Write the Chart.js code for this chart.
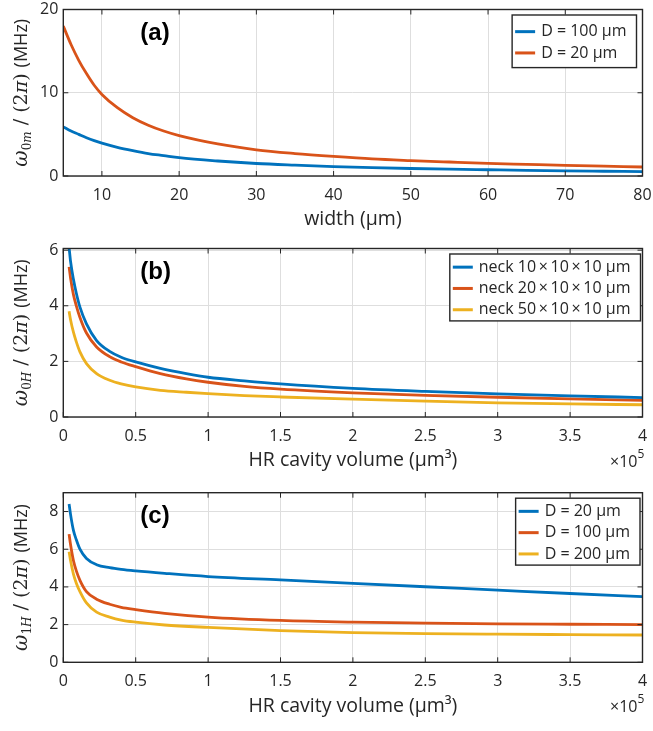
<!DOCTYPE html>
<html>
<head>
<meta charset="utf-8">
<script src="https://cdn.jsdelivr.net/npm/chart.js@4.4.1/dist/chart.umd.min.js"></script>
<style>
  html, body { margin: 0; padding: 0; background: #fff; }
  #wrap { position: relative; width: 653px; height: 731px; }
  .panel { position: absolute; left: 0; width: 653px; }
</style>
</head>
<body>
<div id="wrap">
  <div class="panel" style="top:0;height:235px"><canvas id="chartA"></canvas></div>
  <div class="panel" style="top:235px;height:245px"><canvas id="chartB"></canvas></div>
  <div class="panel" style="top:480px;height:251px"><canvas id="chartC"></canvas></div>
</div>
<script>
// (a) resonance vs neck width
const widthA = [5, 6, 7, 8, 9, 10, 12, 14, 16, 18, 20, 25, 30, 35, 40, 45, 50, 55, 60, 65, 70, 75, 80];
const omegaA_D100 = [5.9, 5.4, 5.0, 4.6, 4.25, 3.95, 3.45, 3.05, 2.7, 2.45, 2.2, 1.8, 1.5, 1.3, 1.13, 1.0, 0.9, 0.82, 0.75, 0.68, 0.62, 0.57, 0.52];
const omegaA_D20 = [18, 15.8, 13.9, 12.3, 10.9, 9.8, 8.2, 7.0, 6.1, 5.4, 4.85, 3.85, 3.15, 2.7, 2.35, 2.05, 1.85, 1.68, 1.52, 1.4, 1.28, 1.18, 1.08];
const xTicksA = [10, 20, 30, 40, 50, 60, 70, 80];
const yTicksA = [0, 10, 20];

// (b) HR cavity volume, units of 1e5 um^3
const volumeB = [0.04, 0.05, 0.07, 0.09, 0.115, 0.16, 0.23, 0.32, 0.4, 0.5, 0.67, 0.85, 1, 1.25, 1.5, 2, 2.5, 3, 3.5, 4];
const omegaB_neck10 = [6.1, 5.6, 4.95, 4.45, 3.95, 3.35, 2.75, 2.36, 2.15, 1.98, 1.75, 1.56, 1.43, 1.3, 1.19, 1.03, 0.92, 0.83, 0.76, 0.7];
const omegaB_neck20 = [5.4, 5.0, 4.4, 4.0, 3.58, 3.02, 2.52, 2.17, 1.98, 1.81, 1.56, 1.37, 1.25, 1.1, 1.0, 0.87, 0.78, 0.71, 0.65, 0.6];
const omegaB_neck50 = [3.8, 3.5, 3.05, 2.7, 2.34, 1.92, 1.56, 1.32, 1.19, 1.08, 0.96, 0.89, 0.84, 0.77, 0.72, 0.64, 0.57, 0.51, 0.47, 0.44];
const yTicksB = [0, 2, 4, 6];

// (c)
const volumeC = [0.04, 0.05, 0.07, 0.09, 0.115, 0.16, 0.23, 0.32, 0.4, 0.5, 0.7, 1, 1.5, 2, 2.5, 3, 3.5, 4];
const omegaC_D20 = [8.4, 7.85, 7.0, 6.5, 6.0, 5.51, 5.18, 5.02, 4.93, 4.85, 4.72, 4.55, 4.37, 4.19, 4.01, 3.83, 3.65, 3.48];
const omegaC_D100 = [6.8, 6.25, 5.4, 4.85, 4.35, 3.75, 3.35, 3.08, 2.92, 2.8, 2.6, 2.4, 2.22, 2.13, 2.08, 2.04, 2.02, 2.0];
const omegaC_D200 = [5.87, 5.4, 4.68, 4.2, 3.75, 3.15, 2.66, 2.4, 2.24, 2.13, 1.98, 1.85, 1.68, 1.58, 1.52, 1.49, 1.47, 1.45];
const xTicksBC = [0, 0.5, 1, 1.5, 2, 2.5, 3, 3.5, 4];
const yTicksC = [0, 2, 4, 6, 8];

const BLUE = '#0072BD', RED = '#D95319', YELLOW = '#EDB120';
const INK = '#262626';
const FONT = '"Open Sans"';

function pts(xs, ys) { return xs.map((x, i) => ({ x: x, y: ys[i] })); }

function line(ctx, x1, y1, x2, y2) {
  ctx.beginPath(); ctx.moveTo(x1, y1); ctx.lineTo(x2, y2); ctx.stroke();
}

// box, inward ticks, panel label, legend, y title, exponent
const frame = {
  id: 'frame',
  afterDraw(chart, args, o) {
    const { ctx, chartArea: a, scales: { x, y } } = chart;
    ctx.save();
    ctx.strokeStyle = INK; ctx.lineWidth = 1;
    x.ticks.forEach(t => {
      const px = x.getPixelForValue(t.value);
      line(ctx, px, a.bottom, px, a.bottom - 5);
      line(ctx, px, a.top, px, a.top + 5);
    });
    y.ticks.forEach(t => {
      const py = y.getPixelForValue(t.value);
      line(ctx, a.left, py, a.left + 5, py);
      line(ctx, a.right, py, a.right - 5, py);
    });
    ctx.lineWidth = 1.4;
    ctx.strokeRect(a.left, a.top, a.width, a.height);

    // panel label
    ctx.fillStyle = '#000';
    ctx.font = 'bold 24px "Liberation Sans"';
    ctx.textBaseline = 'middle'; ctx.textAlign = 'left';
    ctx.fillText(o.label, a.left + 77, a.top + 24);

    // legend
    ctx.font = '16px ' + FONT;
    const ds = chart.data.datasets;
    const tw = Math.max(...ds.map(d => ctx.measureText(d.label).width));
    const rowH = 21.3;
    const w = 29 + tw + 10, h = ds.length * rowH + o.legPad * 2;
    const left = a.right - o.legGap - w, top = a.top + 5.5;
    ctx.fillStyle = '#fff'; ctx.fillRect(left, top, w, h);
    ctx.strokeStyle = INK; ctx.lineWidth = 1.4; ctx.strokeRect(left, top, w, h);
    ds.forEach((d, i) => {
      const cy = top + o.legPad + rowH * (i + 0.5) + 1;
      ctx.strokeStyle = d.borderColor; ctx.lineWidth = 3;
      line(ctx, left + 3, cy, left + 23, cy);
      ctx.fillStyle = INK; ctx.textBaseline = 'middle';
      ctx.fillText(d.label, left + 29, cy);
    });

    // y title, rotated, with subscripts
    const serif = '"DejaVu Serif"';
    const parts = [
      { t: 'ω', f: 'italic 20px ' + serif, dy: 0 },
      { t: o.sub[0], f: '12px ' + serif, dy: 4 },
      { t: o.sub[1], f: 'italic 12px ' + serif, dy: 4 },
      { t: ' / ', f: '19px ' + serif, dy: 0 },
      { t: '(2', f: '19px ' + serif, dy: 0 },
      { t: 'π', f: 'italic 19px ' + serif, dy: 0 },
      { t: ') ', f: '19px ' + serif, dy: 0 },
      { t: '(MHz)', f: '18px ' + FONT, dy: 0 }
    ];
    let total = 0;
    parts.forEach(p => { ctx.font = p.f; p.w = ctx.measureText(p.t).width; total += p.w; });
    ctx.translate(21, (a.top + a.bottom) / 2);
    ctx.rotate(-Math.PI / 2);
    ctx.fillStyle = INK; ctx.textBaseline = 'alphabetic'; ctx.textAlign = 'left';
    let cx = -total / 2;
    parts.forEach(p => { ctx.font = p.f; ctx.fillText(p.t, cx, 6 + p.dy); cx += p.w; });
    ctx.setTransform(1, 0, 0, 1, 0, 0);

    // x10^5 exponent
    if (o.exp) {
      ctx.fillStyle = INK; ctx.textBaseline = 'alphabetic';
      ctx.font = '16px ' + FONT;
      const base = a.bottom + 50;
      ctx.fillText('×10', 610, base);
      const ww = ctx.measureText('×10').width;
      ctx.font = '12px ' + FONT;
      ctx.fillText('5', 610 + ww, base - 9);
    }
    ctx.restore();
  }
};

function makeChart(id, datasets, cfg) {
  return new Chart(document.getElementById(id), {
    type: 'line',
    data: { datasets: datasets.map(d => ({
      label: d.label, data: d.data, borderColor: d.color, backgroundColor: d.color,
      borderWidth: 2.8, pointRadius: 0, fill: false, cubicInterpolationMode: 'monotone'
    })) },
    options: {
      responsive: true, maintainAspectRatio: false, animation: false,
      layout: { padding: { left: 0, right: 10.5, top: cfg.top, bottom: 0 } },
      plugins: {
        legend: { display: false }, tooltip: { enabled: false },
        frame: { label: cfg.label, sub: cfg.sub, exp: cfg.exp, legGap: cfg.legGap, legPad: cfg.legPad }
      },
      scales: {
        x: {
          type: 'linear', min: cfg.xMin, max: cfg.xMax,
          grid: { color: '#dedede', drawTicks: false },
          border: { display: false },
          ticks: { color: INK, font: { family: FONT, size: 16 }, padding: 10, maxRotation: 0, callback: v => String(v) },
          title: { display: true, text: cfg.xTitle, color: INK, font: { family: FONT, size: 19.5 }, padding: { top: 0, bottom: cfg.titlePad } },
          afterBuildTicks: s => { s.ticks = cfg.xTicks.map(v => ({ value: v })); },
          afterFit: s => { s.height = cfg.xH; s.paddingLeft = 0; s.paddingRight = 0; }
        },
        y: {
          min: 0, max: cfg.yMax,
          grid: { color: '#dedede', drawTicks: false },
          border: { display: false },
          ticks: { color: INK, font: { family: FONT, size: 16 }, padding: 5, callback: v => String(v) },
          afterBuildTicks: s => { s.ticks = cfg.yTicks.map(v => ({ value: v })); },
          afterFit: s => { s.width = 63.3; s.paddingTop = 0; s.paddingBottom = 0; }
        }
      }
    },
    plugins: [frame]
  });
}

makeChart('chartA', [
  { label: 'D = 100 μm', data: pts(widthA, omegaA_D100), color: BLUE },
  { label: 'D = 20 μm', data: pts(widthA, omegaA_D20), color: RED }
], { top: 9.5, xH: 59, xMin: 5, xMax: 80, yMax: 20, xTicks: xTicksA, yTicks: yTicksA,
     xTitle: 'width (μm)', titlePad: 4, label: '(a)', sub: ['0', 'm'], exp: false, legGap: 6, legPad: 5 });

makeChart('chartB', [
  { label: 'neck 10\u2009×\u200910\u2009×\u200910 μm', data: pts(volumeB, omegaB_neck10), color: BLUE },
  { label: 'neck 20\u2009×\u200910\u2009×\u200910 μm', data: pts(volumeB, omegaB_neck20), color: RED },
  { label: 'neck 50\u2009×\u200910\u2009×\u200910 μm', data: pts(volumeB, omegaB_neck50), color: YELLOW }
], { top: 13.5, xH: 63, xMin: 0, xMax: 4, yMax: 6.06, xTicks: xTicksBC, yTicks: yTicksB,
     xTitle: 'HR cavity volume (μm³)', titlePad: 8, label: '(b)', sub: ['0', 'H'], exp: true, legGap: 2, legPad: 1.5 });

makeChart('chartC', [
  { label: 'D = 20 μm', data: pts(volumeC, omegaC_D20), color: BLUE },
  { label: 'D = 100 μm', data: pts(volumeC, omegaC_D100), color: RED },
  { label: 'D = 200 μm', data: pts(volumeC, omegaC_D200), color: YELLOW }
], { top: 12.7, xH: 68.7, xMin: 0, xMax: 4, yMax: 9, xTicks: xTicksBC, yTicks: yTicksC,
     xTitle: 'HR cavity volume (μm³)', titlePad: 13, label: '(c)', sub: ['1', 'H'], exp: true, legGap: 2.5, legPad: 1.5 });
</script>
</body>
</html>
